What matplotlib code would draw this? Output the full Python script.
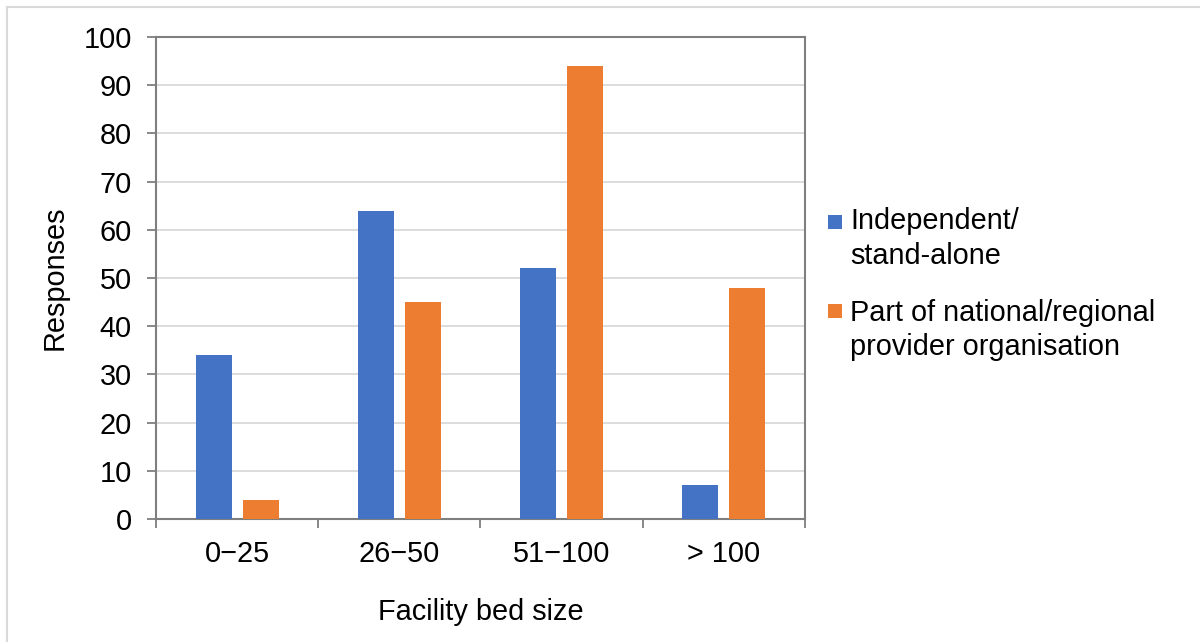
import matplotlib
matplotlib.use("Agg")
import matplotlib.pyplot as plt
import numpy as np
from matplotlib.patches import Rectangle
from matplotlib.lines import Line2D

categories = ["0\u221225", "26\u221250", "51\u2212100", "> 100"]
independent = [34, 64, 52, 7]
national_regional = [4, 45, 94, 48]
series_labels = [["Independent/", "stand-alone"],
                 ["Part of national/regional", "provider organisation"]]
y_ticks = list(range(0, 101, 10))

BLUE = "#4472C4"
ORANGE = "#ED7D31"
SPINE = "#7F7F7F"
GRID = "#D9D9D9"

plt.rcParams["font.family"] = ["Liberation Sans", "DejaVu Sans"]
FS = 20.8

W, H = 1200, 642
fig = plt.figure(figsize=(W / 100, H / 100), dpi=100)

def fx(px):
    return px / W

def fy(py):
    return 1 - py / H

# outer chart-area border
fig.add_artist(Line2D([fx(7), fx(7)], [fy(7), 0], color=GRID, lw=1.5,
                      transform=fig.transFigure))
fig.add_artist(Line2D([fx(7), 1], [fy(7), fy(7)], color=GRID, lw=1.5,
                      transform=fig.transFigure))

ax = fig.add_axes([fx(156), fy(519), fx(805) - fx(156), fy(37) - fy(519)])

x = np.arange(len(categories))
bw = 0.222
off = 0.145
ax.bar(x - off, independent, bw, color=BLUE, zorder=3)
ax.bar(x + off, national_regional, bw, color=ORANGE, zorder=3)

ax.set_xlim(-0.5, len(categories) - 0.5)
ax.set_ylim(0, 100)
ax.set_yticks(y_ticks)
ax.set_yticklabels([str(v) for v in y_ticks], fontsize=FS)
ax.yaxis.grid(True, color=GRID, lw=1.3, zorder=0)
ax.set_axisbelow(True)

# boundary ticks between categories, labels at centres
ax.set_xticks(np.arange(-0.5, len(categories), 1.0))
ax.set_xticklabels([])
ax.set_xticks(x, minor=True)
ax.set_xticklabels(categories, minor=True, fontsize=FS)
ax.tick_params(axis="x", which="major", length=6.5, width=1.3, color=SPINE,
               direction="out")
ax.tick_params(axis="x", which="minor", length=0, pad=15)
ax.tick_params(axis="y", length=6.5, width=1.3, color=SPINE, pad=11)

for s in ax.spines.values():
    s.set_color(SPINE)
    s.set_linewidth(1.5)

fig.text(fx(55), fy(278), "Responses", fontsize=FS, rotation=90,
         ha="center", va="center")
fig.text(fx(481), fy(612), "Facility bed size", fontsize=FS,
         ha="center", va="center")

# legend
legend_rows = [
    (BLUE, 215, [229, 264], series_labels[0]),
    (ORANGE, 304, [321, 355], series_labels[1]),
]
for color, sq_top, baselines, lines in legend_rows:
    fig.add_artist(Rectangle((fx(828), fy(sq_top + 14)), fx(14), fy(sq_top) - fy(sq_top + 14),
                             facecolor=color, edgecolor="none",
                             transform=fig.transFigure))
    for b, t in zip(baselines, lines):
        fig.text(fx(850), fy(b), t, fontsize=FS, ha="left", va="baseline")

fig.savefig("out.png", dpi=100, facecolor="white")
